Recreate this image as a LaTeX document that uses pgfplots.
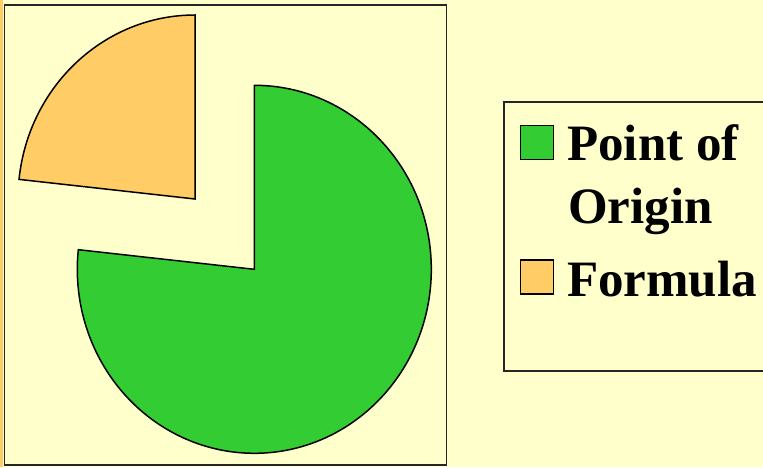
\documentclass[border=0pt]{standalone}
\usepackage{pgfplots}
\pgfplotsset{compat=1.18}
\usepackage{pgfplotstable}
\usepackage{fontspec}
\setmainfont{Liberation Serif}
\definecolor{bg}{HTML}{FFFFCC}
\definecolor{pgreen}{HTML}{33CC33}
\definecolor{porange}{HTML}{FFCC66}
\pgfplotstableread{
label value
Origin 76.7
Formula 23.3
}\piedata
\begin{document}
\begin{tikzpicture}[x=1pt,y=1pt]
\pgfplotstablegetelem{0}{value}\of\piedata \let\vA\pgfplotsretval
\pgfplotstablegetelem{1}{value}\of\piedata \let\vB\pgfplotsretval
\useasboundingbox (0,0) rectangle (763,467);
\fill[bg] (0,0) rectangle (763,467);
\fill[porange] (0,0) rectangle (3,467);
\draw[black!85, line width=1.2pt, fill=bg] (4.6,2) rectangle (446.6,462);
\begin{axis}[x=1pt, y=1pt, xmin=0, xmax=763, ymin=0, ymax=467,
  hide axis, at={(0,0)}, anchor=origin, clip=false]
\pgfmathsetmacro\aEnd{90-3.6*\vA}
\pgfmathsetmacro\bEnd{90+3.6*\vB}
\fill[pgreen, draw=black, line width=1.5pt, line join=miter]
  (axis cs:254.3,197.7) -- (axis cs:254.3,381.7)
  arc[start angle=90, end angle=\aEnd, x radius=177pt, y radius=184pt] -- cycle;
\fill[porange, draw=black, line width=1.5pt, line join=miter]
  (axis cs:195,268) -- (axis cs:195,452)
  arc[start angle=90, end angle=\bEnd, x radius=177pt, y radius=184pt] -- cycle;
\end{axis}
% legend
\draw[black!85, line width=1.2pt, fill=bg] (504,96) rectangle (775,365);
\draw[line width=1.2pt, fill=pgreen] (520.7,307.7) rectangle (553.3,341.3);
\draw[line width=1.2pt, fill=porange] (520.7,173) rectangle (553.3,207);
\begin{scope}[every node/.style={inner sep=0pt, anchor=base west, font=\fontsize{51}{62}\selectfont\bfseries}]
\node at (567,306.3) {Point of};
\node at (568,243.7) {Origin};
\node at (567,171) {Formula};
\end{scope}
\end{tikzpicture}
\end{document}
